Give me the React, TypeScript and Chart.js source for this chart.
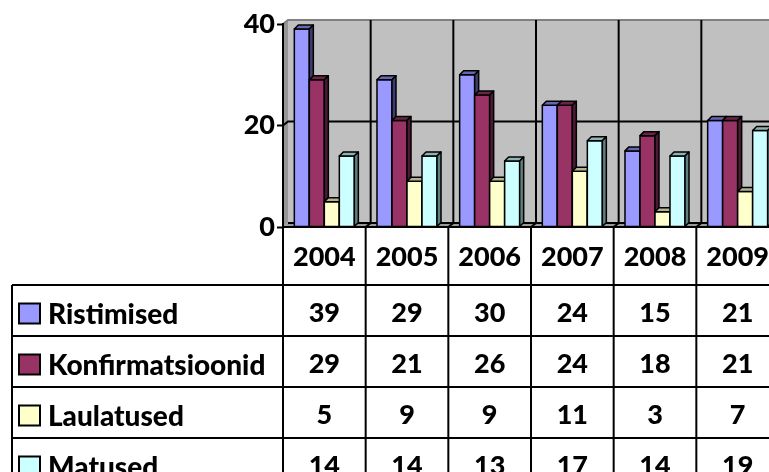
import { useEffect, useRef } from "react";
import { Chart, registerables } from "chart.js";
Chart.register(...registerables);

const years = ["2004", "2005", "2006", "2007", "2008", "2009"];
const seriesNames = ["Ristimised", "Konfirmatsioonid", "Laulatused", "Matused"];
const ristimised = [39, 29, 30, 24, 15, 21];
const konfirmatsioonid = [29, 21, 26, 24, 18, 21];
const laulatused = [5, 9, 9, 11, 3, 7];
const matused = [14, 14, 13, 17, 14, 19];
const yMax = 40;
const yStep = 20;

const FRONT = ["#9999FF", "#993366", "#FFFFCC", "#CCFFFF"];
const TOP = ["#6666B3", "#6B2447", "#B3B38F", "#8FB3B3"];
const SIDE = ["#3D3D73", "#4D1A33", "#80806A", "#5F8080"];

const FONT_WEIGHT = "900";
const FONT_SIZE = 27;
const FONT = `${FONT_WEIGHT} ${FONT_SIZE}px Lato`;
const LABEL_FONT = `${FONT_WEIGHT} 28px Lato`;
const W = 820;
const H = 530;

const wallDX = 5;
const wallDY = 4;
const barD = 4;
const tableLeft = 12;
const headerH = 58;
const rowH = 51;

const threeD = {
  id: "threeD",
  beforeDraw(chart: any) {
    const { ctx, chartArea: ca } = chart;
    const ys = chart.scales.y;
    const xs = chart.scales.x;
    const l = ca.left, r = ca.right, t = ca.top, b = ca.bottom;
    ctx.save();
    ctx.fillStyle = "#C0C0C0";
    ctx.fillRect(l + wallDX, t - wallDY, r - l, b - t);
    ctx.fillStyle = "#969696";
    ctx.beginPath();
    ctx.moveTo(l, t);
    ctx.lineTo(l + wallDX, t - wallDY);
    ctx.lineTo(l + wallDX, b - wallDY);
    ctx.lineTo(l, b);
    ctx.closePath();
    ctx.fill();
    ctx.fillStyle = "#999999";
    ctx.beginPath();
    ctx.moveTo(l, b);
    ctx.lineTo(r, b);
    ctx.lineTo(r + wallDX, b - wallDY);
    ctx.lineTo(l + wallDX, b - wallDY);
    ctx.closePath();
    ctx.fill();
    ctx.strokeStyle = "#808080";
    ctx.lineWidth = 2;
    ctx.beginPath();
    ctx.moveTo(l, t);
    ctx.lineTo(l + wallDX, t - wallDY);
    ctx.lineTo(r + wallDX, t - wallDY);
    ctx.lineTo(r + wallDX, b - wallDY);
    ctx.stroke();
    ctx.strokeStyle = "#000";
    ctx.lineWidth = 2;
    for (let v = yStep; v < yMax; v += yStep) {
      const py = ys.getPixelForValue(v);
      ctx.beginPath();
      ctx.moveTo(l, py);
      ctx.lineTo(l + wallDX, py - wallDY);
      ctx.lineTo(r + wallDX, py - wallDY);
      ctx.stroke();
    }
    const cw = xs.getPixelForValue(1) - xs.getPixelForValue(0);
    for (let i = 1; i < years.length; i++) {
      const px = xs.getPixelForValue(i) - cw / 2;
      ctx.beginPath();
      ctx.moveTo(px + wallDX, t - wallDY);
      ctx.lineTo(px + wallDX, b - wallDY);
      ctx.lineTo(px, b);
      ctx.stroke();
    }
    ctx.beginPath();
    ctx.moveTo(l + wallDX, b - wallDY);
    ctx.lineTo(r + wallDX, b - wallDY);
    ctx.stroke();
    ctx.restore();
  },
  beforeDatasetsDraw(chart: any) {
    const { ctx } = chart;
    ctx.save();
    ctx.lineWidth = 1.5;
    ctx.strokeStyle = "#000";
    ctx.lineJoin = "round";
    chart.data.datasets.forEach((ds: any, di: number) => {
      const meta = chart.getDatasetMeta(di);
      meta.data.forEach((el: any) => {
        const { x, y, base, width } = el.getProps(["x", "y", "base", "width"], true);
        const x0 = x - width / 2;
        const x1 = x + width / 2;
        ctx.fillStyle = FRONT[di];
        ctx.beginPath();
        ctx.rect(x0, y, width, base - y);
        ctx.fill();
        ctx.stroke();
        ctx.fillStyle = TOP[di];
        ctx.beginPath();
        ctx.moveTo(x0, y);
        ctx.lineTo(x1, y);
        ctx.lineTo(x1 + barD, y - barD);
        ctx.lineTo(x0 + barD, y - barD);
        ctx.closePath();
        ctx.fill();
        ctx.stroke();
        ctx.fillStyle = SIDE[di];
        ctx.beginPath();
        ctx.moveTo(x1, y);
        ctx.lineTo(x1 + barD, y - barD);
        ctx.lineTo(x1 + barD, base - barD);
        ctx.lineTo(x1, base);
        ctx.closePath();
        ctx.fill();
        ctx.stroke();
      });
    });
    ctx.restore();
    return false;
  },
  afterDraw(chart: any) {
    const { ctx, chartArea: ca } = chart;
    const xs = chart.scales.x;
    const cw = xs.getPixelForValue(1) - xs.getPixelForValue(0);
    const bounds: number[] = [];
    for (let i = 0; i <= years.length; i++) bounds.push(xs.getPixelForValue(0) - cw / 2 + i * cw);
    const hTop = ca.bottom;
    const hBot = hTop + headerH;
    const nRows = chart.data.datasets.length;
    const tBot = hBot + nRows * rowH;
    const right = bounds[bounds.length - 1];
    ctx.save();
    ctx.strokeStyle = "#000";
    ctx.lineWidth = 2;
    ctx.beginPath();
    ctx.moveTo(bounds[0], hTop);
    ctx.lineTo(right, hTop);
    for (let k = 0; k <= nRows; k++) {
      const yy = hBot + k * rowH;
      ctx.moveTo(tableLeft, yy);
      ctx.lineTo(right, yy);
    }
    ctx.moveTo(tableLeft, hBot);
    ctx.lineTo(tableLeft, tBot);
    bounds.forEach((bx) => {
      ctx.moveTo(bx, hTop);
      ctx.lineTo(bx, tBot);
    });
    ctx.stroke();

    ctx.fillStyle = "#000";
    ctx.font = FONT;
    ctx.textAlign = "center";
    ctx.textBaseline = "middle";
    years.forEach((yr, i) => {
      ctx.fillText(yr, xs.getPixelForValue(i), (hTop + hBot) / 2 + 1);
    });
    chart.data.datasets.forEach((ds: any, di: number) => {
      const rTop = hBot + di * rowH;
      const mid = rTop + rowH / 2 + 3;
      ctx.fillStyle = FRONT[di];
      ctx.fillRect(19, mid - 10, 21, 20);
      ctx.strokeStyle = "#000";
      ctx.lineWidth = 2;
      ctx.strokeRect(19, mid - 10, 21, 20);
      ctx.fillStyle = "#000";
      ctx.textAlign = "left";
      ctx.font = LABEL_FONT;
      ctx.fillText(ds.label, 48, mid + 1);
      ctx.font = FONT;
      ctx.textAlign = "center";
      ds.data.forEach((v: number, i: number) => {
        ctx.fillText(String(v), xs.getPixelForValue(i), mid);
      });
    });
    ctx.restore();
  },
};

export default function App() {
  const ref = useRef<HTMLCanvasElement | null>(null);
  useEffect(() => {
    if (!ref.current) return;
    const seriesValues = [ristimised, konfirmatsioonid, laulatused, matused];
    const chart = new Chart(ref.current, {
      type: "bar",
      data: {
        labels: years,
        datasets: seriesNames.map((name, i) => ({
          label: name,
          data: seriesValues[i],
          backgroundColor: FRONT[i],
          categoryPercentage: 0.726,
          barPercentage: 1.0,
        })),
      },
      options: {
        animation: false,
        responsive: false,
        maintainAspectRatio: false,
        layout: { padding: { left: 0, top: 24, right: 41, bottom: 303 } },
        plugins: { legend: { display: false }, tooltip: { enabled: false } },
        scales: {
          x: { display: false, offset: true },
          y: {
            min: 0,
            max: yMax,
            ticks: {
              stepSize: yStep,
              color: "#000",
              padding: 2,
              font: { family: "Lato", size: FONT_SIZE, weight: FONT_WEIGHT },
            },
            grid: {
              drawOnChartArea: false,
              drawTicks: true,
              tickLength: 6,
              tickWidth: 2,
              color: "#000",
            },
            border: { display: true, color: "#000", width: 2 },
            afterFit(scale: any) {
              scale.width = 283;
            },
          },
        },
      },
      plugins: [threeD],
    });
    return () => chart.destroy();
  }, []);
  return (
    <div
      style={{
        position: "fixed",
        left: 0,
        top: 0,
        width: 769,
        height: 472,
        overflow: "hidden",
        background: "#fff",
      }}
    >
      <canvas ref={ref} width={W} height={H} style={{ display: "block", width: W, height: H }} />
    </div>
  );
}
